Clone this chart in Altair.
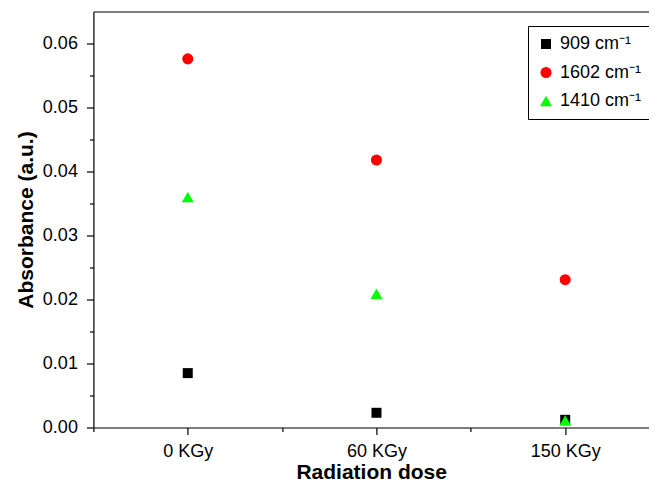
import altair as alt
import pandas as pd

# ---- data ----
doses = ["0 KGy", "60 KGy", "150 KGy"]
series = ["909 cm⁻¹", "1602 cm⁻¹", "1410 cm⁻¹"]
abs_909 = [0.0085, 0.0023, 0.0012]
abs_1602 = [0.0576, 0.0418, 0.0231]
abs_1410 = [0.0360, 0.0209, 0.0011]
y_ticks = [0.00, 0.01, 0.02, 0.03, 0.04, 0.05, 0.06]
y_minor = [0.005, 0.015, 0.025, 0.035, 0.045, 0.055]
x_major = [1, 2, 3]
x_minor = [0.5, 1.5, 2.5]

rows = []
for name, vals in zip(series, [abs_909, abs_1602, abs_1410]):
    for pos, dose, v in zip(x_major, doses, vals):
        rows.append({"series": name, "dose": dose, "xpos": pos, "absorbance": v})
df = pd.DataFrame(rows)

FONT = "Liberation Sans"
label_expr = " : ".join(
    f"datum.value == {p} ? '{d}'" for p, d in zip(x_major[:-1], doses[:-1])
) + f" : '{doses[-1]}'"

xscale = alt.Scale(domain=[0.5, 3.444], nice=False, zero=False)
yscale = alt.Scale(domain=[0, 0.065], nice=False, zero=False)

axis_common = dict(grid=False, domainColor="black", tickColor="black",
                   labelColor="black", titleColor="black", labelFont=FONT,
                   titleFont=FONT, labelFontSize=18, titleFontSize=21,
                   titleFontWeight="bold", domainWidth=1.2, tickWidth=1.2)

major_x = alt.Axis(values=x_major, labelExpr=label_expr, title="Radiation dose",
                   orient="bottom", tickSize=7, labelPadding=8, titlePadding=1,
                   labelFlush=False, labelOverlap=False, **axis_common)
major_y = alt.Axis(values=y_ticks, format=".2f", title="Absorbance (a.u.)",
                   orient="left", tickSize=7, labelPadding=9, titlePadding=6,
                   labelFlush=False, labelOverlap=False, **axis_common)
minor_x = alt.Axis(values=x_minor, orient="bottom", labels=False, domain=False,
                   tickSize=4, title=None, grid=False, tickColor="black", tickWidth=1.2)
minor_y = alt.Axis(values=y_minor, orient="left", labels=False, domain=False,
                   tickSize=4, title=None, grid=False, tickColor="black", tickWidth=1.2)
top_x = alt.Axis(orient="top", labels=False, ticks=False, domain=True, title=None,
                 grid=False, domainColor="black", domainWidth=1.2)

legend = alt.Legend(title=None, orient="none", legendX=434.6, legendY=14.5,
                    strokeColor="black", fillColor="white",
                    padding=9, rowPadding=10.5, labelOffset=5, labelFont=FONT,
                    labelFontSize=18, labelColor="black", symbolStrokeWidth=0)

base = alt.Chart(df)

points = base.mark_point(filled=True, opacity=1, strokeWidth=0).encode(
    x=alt.X("xpos:Q", scale=xscale, axis=major_x),
    y=alt.Y("absorbance:Q", scale=yscale, axis=major_y),
    color=alt.Color("series:N", scale=alt.Scale(domain=series, range=["#000000", "#ff0000", "#00ff00"]), legend=legend),
    shape=alt.Shape("series:N", scale=alt.Scale(domain=series, range=["square", "circle", "triangle-up"]), legend=legend),
    size=alt.Size("series:N", scale=alt.Scale(domain=series, range=[100, 144, 169]), legend=legend),
)

minor = base.mark_point(opacity=0).encode(
    x=alt.X("xpos:Q", scale=xscale, axis=minor_x),
    y=alt.Y("absorbance:Q", scale=yscale, axis=minor_y),
)

top = base.mark_point(opacity=0).encode(
    x=alt.X("xpos:Q", scale=xscale, axis=top_x),
    y=alt.Y("absorbance:Q", scale=yscale, axis=None),
)

chart = alt.layer(points, minor, top).resolve_axis(
    x="independent", y="independent"
).properties(
    width=555.6, height=416,
    autosize=alt.AutoSizeParams(type="none"),
    padding={"left": 85.4, "top": 3.5, "right": 0, "bottom": 55.5},
    background="white",
).configure_view(stroke=None).configure_legend(strokeWidth=1)

chart.save("out.html", embed_options={"renderer": "svg", "actions": False})
